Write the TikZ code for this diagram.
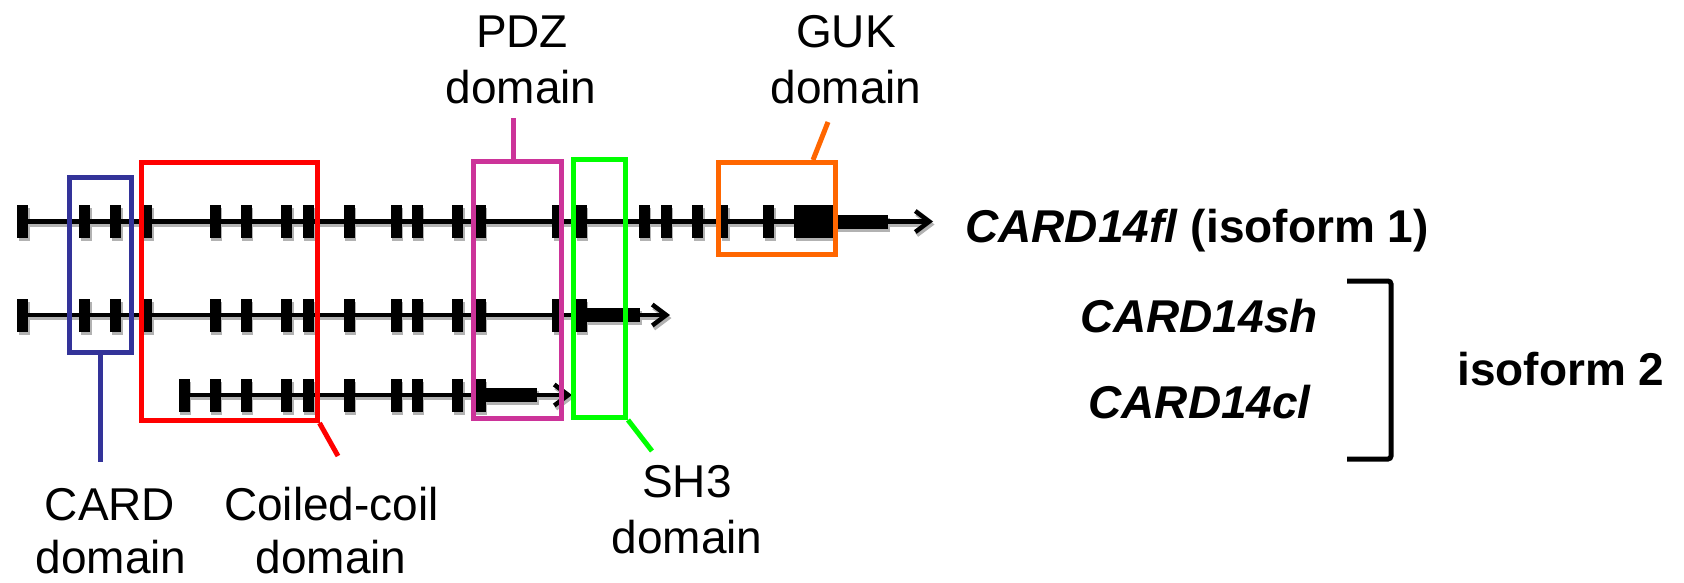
\documentclass[tikz,border=0pt]{standalone}
\usepackage{fontspec}
\setmainfont{Liberation Sans}
\usetikzlibrary{arrows.meta}

\definecolor{carddom}{RGB}{51,51,153}
\definecolor{ccdom}{RGB}{255,0,0}
\definecolor{pdzdom}{RGB}{204,51,153}
\definecolor{shdom}{RGB}{0,255,0}
\definecolor{gukdom}{RGB}{255,102,0}

\tikzset{
  intron/.style={line width=4.5pt},
  tip/.style={-{Straight Barb[length=14pt,width=21pt]}},
  dombox/.style={draw, rectangle, line width=5pt, inner sep=0pt, fill=none},
  leader/.style={line width=5pt},
  domlabel/.style={font=\fontsize{46}{55}\selectfont, anchor=base, inner sep=0pt},
  isolabel/.style={font=\fontsize{46}{55}\selectfont\bfseries, inner sep=0pt},
}

% exon/intron structure of the three transcripts; #1 = colour and shift
\newcommand\genemodel[1]{%
  \begin{scope}[#1]
    % full-length transcript
    \draw[intron] (22.5,221.5) -- (888,221.5);
    \draw[intron,tip] (884,221.5) -- (933,221.5);
    \foreach \x/\w in {22.5/11,84.5/11,115.5/11,147/10,215/11,246/11,286.5/11,
                       308/11,349/11,396/11,417/11,457.5/11,480/11,557/10,581/11,
                       644/11,666/11,697.5/11,724/8,768.5/11}
      \fill (\x-\w/2,205) rectangle (\x+\w/2,238);
    \fill (794,205) rectangle (833,238);
    \fill (833,214.5) rectangle (888,228.5);
    % short transcript
    \draw[intron] (22.5,315) -- (640,315);
    \draw[intron,tip] (636,315) -- (670,315);
    \foreach \x/\w in {22.5/11,84.5/11,115.5/11,147/10,215/11,246/11,286.5/11,
                       308/11,349/11,396/11,417/11,457.5/11,480/11,557/10,581/11}
      \fill (\x-\w/2,298.5) rectangle (\x+\w/2,331.5);
    \fill (586,308) rectangle (640,322);
    % transcript lacking the CARD exons
    \draw[intron] (184,395) -- (537,395);
    \draw[intron,tip] (533,395) -- (572,395);
    \foreach \x/\w in {184/11,215/11,246/11,286.5/11,308/11,349/11,396/11,
                       417/11,457.5/11,480/11}
      \fill (\x-\w/2,378.5) rectangle (\x+\w/2,411.5);
    \fill (485,388) rectangle (537,402);
  \end{scope}
}

\begin{document}
\begin{tikzpicture}[x=1pt,y=-1pt]
  \useasboundingbox (0,0) rectangle (1684,582);

  % soft drop shadow, then the transcripts
  \genemodel{color=black!30, shift={(1.5,3)}}
  \genemodel{color=black}

  % domain boxes
  \node[dombox, draw=carddom, minimum width=62pt, minimum height=175pt]
       (card) at (100,264.5) {};
  \node[dombox, draw=ccdom, minimum width=175.5pt, minimum height=258pt]
       (cc) at (229.25,291.5) {};
  \node[dombox, draw=pdzdom, minimum width=88pt, minimum height=257pt]
       (pdz) at (517,290) {};
  \node[dombox, draw=shdom, minimum width=52pt, minimum height=258pt]
       (sh) at (599.5,288.5) {};
  \node[dombox, draw=gukdom, minimum width=116.5pt, minimum height=92pt]
       (guk) at (776.75,208.5) {};

  % leader ends
  \coordinate (cardend) at (100,462);
  \coordinate (ccend) at (338,456);
  \coordinate (pdzend) at (513,118);
  \coordinate (shend) at (652,451);
  \coordinate (gukend) at (828,122);
  \coordinate (gukfoot) at (813,0);

  \draw[leader, carddom] (card.south) -- (cardend);
  \draw[leader, ccdom] (cc.south east) -- (ccend);
  \draw[leader, pdzdom] (pdz.north -| pdzend) -- (pdzend);
  \draw[leader, shdom] (sh.south east) -- (shend);
  \draw[leader, gukdom] (guk.north -| gukfoot) -- (gukend);

  % domain labels
  \node[domlabel] (cardlab)  at (110,520) {CARD};
  \node[domlabel] (cardlabb) at (111,573) {domain};
  \node[domlabel] (cclab)    at (331.5,520) {Coiled-coil};
  \node[domlabel] (cclabb)   at (331,573) {domain};
  \node[domlabel] (shlab)    at (687,497) {SH3};
  \node[domlabel] (shlabb)   at (687,553) {domain};
  \node[domlabel] (pdzlab)   at (522,47) {PDZ};
  \node[domlabel] (pdzlabb)  at (521,103) {domain};
  \node[domlabel] (guklab)   at (846,47) {GUK};
  \node[domlabel] (guklabb)  at (846,103) {domain};

  % transcript names
  \node[isolabel, anchor=base west] (fl) at (965,242)
       {\textit{CARD14fl} (isoform 1)};
  \node[isolabel, anchor=base] (shname) at (1199,332) {\textit{CARD14sh}};
  \node[isolabel, anchor=base] (clname) at (1200,418) {\textit{CARD14cl}};

  % bracket grouping the two short isoforms
  \coordinate (brtop) at (1347,281);
  \coordinate (brbot) at (1347,459);
  \draw[line width=5pt, rounded corners=3pt]
       (brtop) -- (1391,281) -- (1391,459) -- (brbot);
  \node[isolabel, anchor=base west] (iso2) at (1457,385) {isoform 2};
\end{tikzpicture}
\end{document}
